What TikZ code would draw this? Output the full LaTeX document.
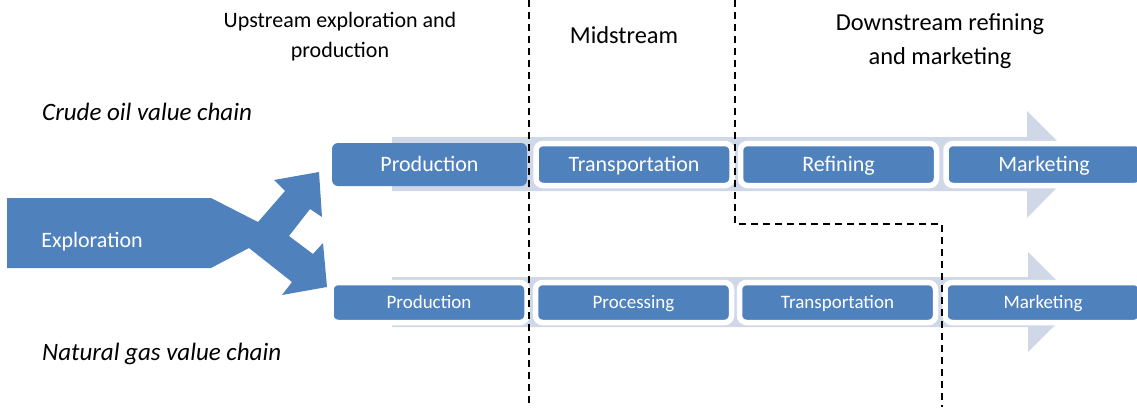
\documentclass[tikz,border=0pt]{standalone}
\usepackage{fontspec}
\setmainfont{Carlito}
\definecolor{boxblue}{RGB}{79,129,189}
\definecolor{bandgrey}{RGB}{208,216,232}
\begin{document}
\begin{tikzpicture}[x=1pt,y=-1pt,
  txt/.style={inner sep=0pt,anchor=base},
  tbig/.style={font=\fontsize{22}{26}\selectfont,text height=15.4pt,text depth=2.2pt},
  tsmall/.style={font=\fontsize{19}{23}\selectfont,text height=13.3pt,text depth=1.9pt},
  bigbox/.style={fill=boxblue,rounded corners=6pt,inner sep=0pt,text=white,tbig},
  ringbox/.style={fill=boxblue,draw=white,line width=5.5pt,rounded corners=7pt,inner sep=0pt,text=white},
  crudebox/.style={ringbox,minimum width=196pt,minimum height=42pt,tbig},
  gasbox/.style={ringbox,minimum width=196pt,minimum height=40pt,tsmall},
  divider/.style={draw=black,line width=2.2pt,dash pattern=on 7pt off 5pt}]
\useasboundingbox (0,0) rectangle (1137,407);

% headers
\node[txt,font=\fontsize{22}{26}\selectfont] (hup1) at (340,27) {Upstream exploration and};
\node[txt,font=\fontsize{22}{26}\selectfont] (hup2) at (340,57) {production};
\node[txt,font=\fontsize{24.4}{30}\selectfont] (hmid) at (624,43) {Midstream};
\node[txt,font=\fontsize{24.4}{30}\selectfont] (hdown1) at (940,30) {Downstream refining};
\node[txt,font=\fontsize{24.4}{30}\selectfont] (hdown2) at (940,64) {and marketing};

% chain labels
\node[txt,anchor=base west,font=\fontsize{25}{30}\selectfont\itshape] (lcrude) at (42,120) {Crude oil value chain};
\node[txt,anchor=base west,font=\fontsize{25}{30}\selectfont\itshape] (lgas) at (42,360) {Natural gas value chain};

% background arrows
\path[fill=bandgrey] (392,137) -- (1027,137) -- (1027,111) -- (1080,164) -- (1027,218) -- (1027,191) -- (392,191) -- cycle;
\path[fill=bandgrey] (392,277) -- (1028,277) -- (1028,252) -- (1078,302) -- (1028,352) -- (1028,327) -- (392,327) -- cycle;

% exploration split arrow
\path[fill=boxblue] (7,198) -- (211,198) -- (258,222) -- (285,191) -- (274,180) -- (319,172)
  -- (322,217) -- (310,209) -- (289,236) -- (313,254) -- (323,243) -- (327,287)
  -- (282,295) -- (292,282) -- (249,248) -- (211,268) -- (7,268) -- cycle;
\node[inner sep=0pt,text=white,tbig] (expl) at (92,241) {Exploration};

% crude oil chain
\node[bigbox,minimum width=195pt,minimum height=43pt] (cprod) at (429.5,164.5) {Production};
\node[crudebox] (ctrans) at (634,164.5) {Transportation};
\node[crudebox] (cref) at (838.5,164.5) {Refining};
\node[crudebox] (cmark) at (1044,164.5) {Marketing};

% natural gas chain
\node[gasbox] (gprod) at (429,302.5) {Production};
\node[gasbox] (gproc) at (633.5,302.5) {Processing};
\node[gasbox] (gtrans) at (837.5,302.5) {Transportation};
\node[gasbox] (gmark) at (1043,302.5) {Marketing};

% dividers
\coordinate (d1top) at (529,0);
\coordinate (d1bot) at (529,407);
\coordinate (d2top) at (735,0);
\coordinate (d2bot) at (942,407);
\draw[divider] (d1top) -- (d1bot);
\draw[divider] (d2top) |- (942,224) -- (d2bot);
\end{tikzpicture}
\end{document}
